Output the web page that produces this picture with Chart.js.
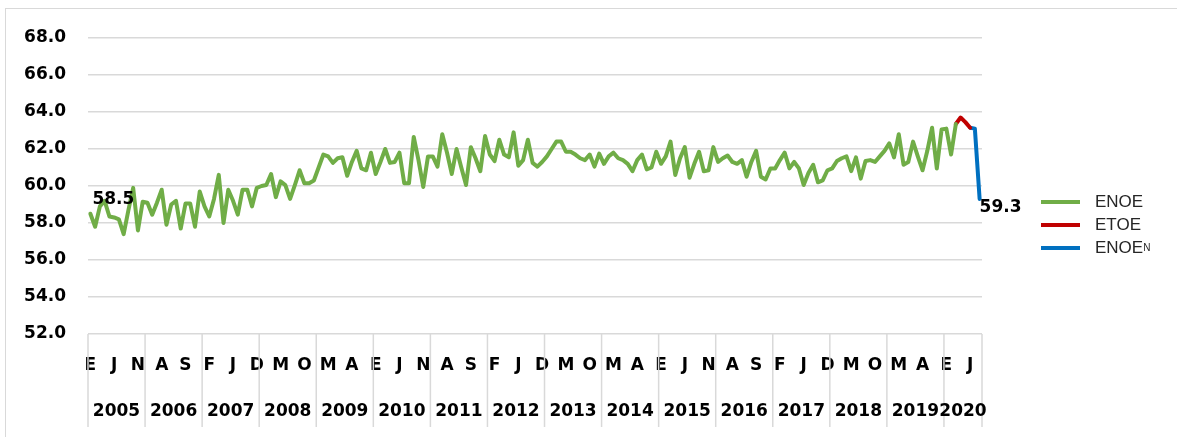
<!DOCTYPE html>
<html>
<head>
<meta charset="utf-8">
<script src="https://cdn.jsdelivr.net/npm/chart.js@4.4.1/dist/chart.umd.min.js"></script>
<style>
  html, body { margin: 0; padding: 0; background: #fff; }
  #wrap { position: relative; width: 1177px; height: 437px; overflow: hidden; }
  #frame { position: absolute; left: 5px; top: 8px; width: 1200px; height: 500px; border: 1px solid #d9d9d9; box-sizing: border-box; }
  #chart { position: absolute; left: 0; top: 0; }
  #legend { position: absolute; left: 1041px; top: 190px; font-family: "Liberation Sans", Arial, sans-serif; font-size: 17px; color: #262626; }
  .row { display: flex; align-items: center; height: 23px; }
  .swatch { width: 39px; height: 4px; margin-right: 15px; }
  .row sup { font-size: 10px; vertical-align: 7px; line-height: 0; }
</style>
</head>
<body>
<div id="wrap">
  <div id="frame"></div>
  <canvas id="chart" width="1177" height="437"></canvas>
  <div id="legend"></div>
</div>
<script>
// month initials (Spanish) and years on the two-level category axis
const MONTH_LETTERS = ["E", "F", "M", "A", "M", "J", "J", "A", "S", "O", "N", "D"];
const YEARS = ["2005", "2006", "2007", "2008", "2009", "2010", "2011", "2012",
  "2013", "2014", "2015", "2016", "2017", "2018", "2019", "2020"];
const LAST_YEAR_MONTHS = 8; // 2020 runs Jan..Aug

// ENOE monthly, Jan 2005 .. Mar 2020
const ENOE = [
  58.5, 57.8, 58.9, 59.2, 58.35, 58.3, 58.2, 57.4, 58.7, 59.9, 57.6, 59.15,
  59.1, 58.45, 59.1, 59.8, 57.9, 59.0, 59.2, 57.7, 59.05, 59.05, 57.8, 59.7,
  58.9, 58.35, 59.3, 60.6, 58.0, 59.8, 59.2, 58.45, 59.8, 59.8, 58.9, 59.9,
  60.0, 60.05, 60.65, 59.4, 60.25, 60.05, 59.3, 60.05, 60.85, 60.15, 60.15, 60.3,
  61.0, 61.7, 61.6, 61.25, 61.5, 61.55, 60.55, 61.3, 61.9, 60.95, 60.85, 61.8,
  60.65, 61.3, 62.0, 61.25, 61.3, 61.8, 60.15, 60.15, 62.65, 61.4, 59.95, 61.6,
  61.6, 61.05, 62.8, 61.8, 60.65, 62.0, 61.0, 60.05, 62.1, 61.5, 60.8, 62.7,
  61.7, 61.35, 62.5, 61.7, 61.55, 62.9, 61.1, 61.4, 62.5, 61.25, 61.05, 61.3,
  61.6, 62.0, 62.4, 62.4, 61.85, 61.85, 61.7, 61.5, 61.4, 61.7, 61.05, 61.75,
  61.2, 61.6, 61.8, 61.5, 61.4, 61.2, 60.8, 61.4, 61.7, 60.9, 61.0, 61.85,
  61.2, 61.6, 62.4, 60.6, 61.5, 62.1, 60.45, 61.2, 61.85, 60.8, 60.85, 62.1,
  61.3, 61.5, 61.65, 61.3, 61.2, 61.4, 60.5, 61.3, 61.9, 60.5, 60.35, 60.95,
  60.95, 61.4, 61.8, 60.95, 61.3, 60.95, 60.05, 60.7, 61.15, 60.2, 60.3, 60.85,
  60.95, 61.35, 61.5, 61.6, 60.8, 61.55, 60.4, 61.35, 61.4, 61.3, 61.6, 61.9,
  62.3, 61.55, 62.8, 61.15, 61.3, 62.4, 61.6, 60.85, 61.9, 63.15, 60.95, 63.05,
  63.1, 61.7, 63.35
];
// ETOE, Mar..Jun 2020 (first value joins the ENOE line)
const ETOE = [63.35, 63.7, 63.45, 63.15];
const ETOE_START = 182;
// ENOE nueva, Jun..Aug 2020 (first value joins the ETOE line)
const ENOE_N = [63.15, 63.1, 59.3];
const ENOE_N_START = 185;

const Y_MIN = 52, Y_MAX = 68, Y_STEP = 2;

const labels = [];
YEARS.forEach((yr, k) => {
  const n = k === YEARS.length - 1 ? LAST_YEAR_MONTHS : 12;
  for (let m = 0; m < n; m++) labels.push(MONTH_LETTERS[m] + " " + yr);
});

function placeAt(values, start) {
  const out = new Array(labels.length).fill(null);
  values.forEach((v, i) => { out[start + i] = v; });
  return out;
}

const TICK_FONT = { family: "'DejaVu Sans', sans-serif", size: 17, weight: "bold" };

const yearAxis = {
  id: "yearAxis",
  afterDraw(chart) {
    const x = chart.scales.x;
    const ctx = chart.ctx;
    const bottom = chart.chartArea.bottom;
    const half = (x.getPixelForValue(1) - x.getPixelForValue(0)) / 2;
    ctx.save();
    ctx.strokeStyle = "#d9d9d9";
    ctx.lineWidth = 1.5;
    ctx.fillStyle = "#000";
    ctx.font = "bold 17px 'DejaVu Sans', sans-serif";
    ctx.textAlign = "center";
    ctx.textBaseline = "middle";
    let start = 0;
    YEARS.forEach((yr, k) => {
      const n = k === YEARS.length - 1 ? LAST_YEAR_MONTHS : 12;
      const x0 = x.getPixelForValue(start) - half;
      const x1 = x.getPixelForValue(start + n - 1) + half;
      ctx.beginPath();
      ctx.moveTo(x0, bottom);
      ctx.lineTo(x0, bottom + 93);
      if (k === YEARS.length - 1) {
        ctx.moveTo(x1, bottom);
        ctx.lineTo(x1, bottom + 93);
      }
      ctx.stroke();
      ctx.fillText(yr, (x0 + x1) / 2, bottom + 78);
      start += n;
    });
    ctx.restore();
  }
};

const endLabels = {
  id: "endLabels",
  afterDatasetsDraw(chart) {
    const ctx = chart.ctx;
    ctx.save();
    ctx.fillStyle = "#000";
    ctx.font = "bold 17px 'DejaVu Sans', sans-serif";
    ctx.textAlign = "left";
    ctx.textBaseline = "middle";
    const first = chart.getDatasetMeta(0).data[0];
    ctx.fillText(ENOE[0].toFixed(1), first.x + 2, first.y - 14);
    const lastMeta = chart.getDatasetMeta(2).data;
    const last = lastMeta[lastMeta.length - 1];
    ctx.fillText(ENOE_N[ENOE_N.length - 1].toFixed(1), last.x, last.y + 9);
    ctx.restore();
  }
};

const lineStyle = { borderWidth: 4, pointRadius: 0, tension: 0, borderJoinStyle: "round", borderCapStyle: "round", spanGaps: false };

const chart = new Chart(document.getElementById("chart"), {
  type: "line",
  data: {
    labels: labels,
    datasets: [
      { label: "ENOE", sup: "", data: placeAt(ENOE, 0), borderColor: "#70AD47", ...lineStyle },
      { label: "ETOE", sup: "", data: placeAt(ETOE, ETOE_START), borderColor: "#C00000", ...lineStyle },
      { label: "ENOE", sup: "N", data: placeAt(ENOE_N, ENOE_N_START), borderColor: "#0070C0", ...lineStyle },
    ],
  },
  options: {
    responsive: false,
    animation: false,
    layout: { padding: { left: 0, right: 195, top: 38, bottom: 0 } },
    plugins: { legend: { display: false }, tooltip: { enabled: false } },
    scales: {
      x: {
        type: "category",
        offset: true,
        grid: { display: false, drawTicks: false },
        border: { display: false },
        ticks: {
          autoSkip: false,
          maxRotation: 0,
          minRotation: 0,
          padding: 21,
          color: "#000",
          font: TICK_FONT,
          callback: (value, index) => (index % 5 === 0 ? MONTH_LETTERS[index % 12] : ""),
        },
        afterFit: (scale) => { scale.height = 103; },
      },
      y: {
        min: Y_MIN,
        max: Y_MAX,
        ticks: {
          stepSize: Y_STEP,
          padding: 22,
          color: "#000",
          font: TICK_FONT,
          callback: (v) => v.toFixed(1),
        },
        grid: { color: "#d9d9d9", lineWidth: 1.5, drawTicks: false },
        border: { display: false },
        afterFit: (scale) => { scale.width = 88; },
      },
    },
  },
  plugins: [yearAxis, endLabels],
});

// legend built from the chart's own datasets
document.getElementById("legend").innerHTML = chart.data.datasets.map((d) => `
  <div class="row"><span class="swatch" style="background:${d.borderColor}"></span>${d.label}${d.sup ? `<sup>${d.sup}</sup>` : ""}</div>
`).join("");
</script>
</body>
</html>
